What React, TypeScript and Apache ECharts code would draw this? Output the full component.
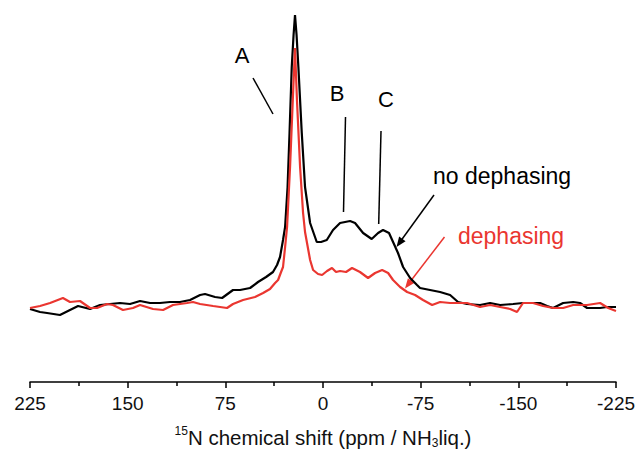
import React, { useEffect, useRef } from "react";
import * as echarts from "echarts";

// x: 15N chemical shift (ppm), y: intensity (arbitrary units)
const blackPpm = [225, 217.3, 211.9, 202.0, 194.3, 188.1, 178.9, 171.2, 163.6, 155.9, 148.2, 140.5, 132.8, 125.2, 117.5, 109.8, 102.1, 94.4, 90.6, 82.9, 77.5, 69.1, 63.7, 56.0, 49.9, 43.7, 38.4, 35.3, 33.0, 30.7, 29.1, 27.2, 25.7, 24.0, 22.6, 21.5, 20.3, 18.9, 16.3, 13.8, 9.9, 4.8, 1.5, -2.9, -7.7, -13.1, -20.8, -24.6, -30.8, -37.4, -42.3, -46.1, -50.7, -53.8, -57.6, -61.5, -66.9, -72.2, -74.5, -82.2, -89.9, -97.6, -103.7, -110.6, -120.6, -128.3, -136.0, -146.0, -153.6, -161.3, -166.7, -172.1, -176.7, -184.4, -192.1, -197.4, -202.8, -212.8, -218.2, -225];
const blackInt = [73, 70, 69, 67, 72, 76, 73, 77, 78, 79, 78, 81, 79, 79, 80, 80, 82, 87, 88, 85, 84, 92, 92, 94, 100, 105, 110, 117, 125, 142, 155, 195, 249, 315, 347, 367, 347, 315, 249, 195, 159, 140, 140, 142, 152, 159, 161, 159, 149, 143, 149, 152, 149, 140, 129, 115, 104, 97, 94, 92, 90, 87, 80, 78, 77, 79, 77, 78, 79, 79, 79, 76, 74, 79, 80, 79, 74, 74, 75, 75];

const redPpm = [225, 217.3, 209.6, 199.7, 194.3, 186.6, 178.9, 173.5, 165.9, 161.3, 153.6, 145.9, 140.5, 130.5, 122.8, 115.2, 104.4, 99.8, 94.4, 84.4, 73.7, 69.1, 61.4, 52.2, 46.0, 40.7, 36.8, 34.5, 32.2, 30.7, 29.1, 27.6, 25.3, 23.2, 21.5, 20.0, 17.6, 15.3, 13.8, 9.9, 7.6, 3.8, 0.7, -3.1, -6.9, -10.0, -13.1, -17.7, -22.3, -28.4, -34.6, -40.0, -45.4, -50.0, -53.8, -59.2, -64.6, -70.7, -76.8, -83.8, -89.9, -97.6, -110.6, -120.6, -128.3, -136.0, -143.7, -149.0, -153.6, -161.3, -169.0, -176.7, -184.4, -192.1, -202.8, -212.8, -219.0, -225];
const redInt = [74, 76, 79, 84, 80, 81, 74, 74, 78, 77, 72, 74, 77, 73, 72, 77, 79, 80, 78, 76, 74, 78, 82, 85, 89, 93, 99, 102, 110, 115, 135, 155, 215, 282, 334, 282, 215, 169, 150, 122, 112, 108, 107, 111, 114, 110, 111, 110, 114, 110, 104, 109, 112, 109, 102, 95, 90, 87, 82, 77, 80, 79, 79, 75, 77, 75, 73, 70, 79, 79, 76, 74, 74, 77, 77, 79, 74, 71];

const xTicks = [225, 150, 75, 0, -75, -150, -225];
const seriesNames = ["no dephasing", "dephasing"];

const FONT = "'Liberation Sans', Arial, sans-serif";
const RED = "#ea3630";

function arrowHead(x1: number, y1: number, x2: number, y2: number, len: number, half: number) {
  const dx = x2 - x1, dy = y2 - y1;
  const l = Math.sqrt(dx * dx + dy * dy);
  const ux = dx / l, uy = dy / l;
  const bx = x2 - ux * len, by = y2 - uy * len;
  return [[x2, y2], [bx - uy * half, by + ux * half], [bx + uy * half, by - ux * half]];
}

export default function App() {
  const ref = useRef<HTMLDivElement>(null);
  useEffect(() => {
    document.body.style.margin = "0";
    const chart = echarts.init(ref.current!, null, { renderer: "svg" });
    const black = blackPpm.map((p, i) => [p, blackInt[i]]);
    const red = redPpm.map((p, i) => [p, redInt[i]]);
    chart.setOption({
      animation: false,
      backgroundColor: "#fff",
      grid: { left: 30, right: 24, top: 10, bottom: 74, outerBoundsMode: "none", containLabel: false },
      xAxis: {
        type: "value",
        min: -225,
        max: 225,
        interval: 75,
        inverse: true,
        axisLine: { show: true, lineStyle: { color: "#000", width: 1.5 } },
        axisTick: { show: true, inside: false, length: 6, lineStyle: { color: "#000", width: 1.5 } },
        minorTick: { show: true, splitNumber: 2, length: 4, lineStyle: { color: "#000", width: 1.5 } },
        splitLine: { show: false },
        axisLabel: {
          color: "#111",
          fontSize: 19,
          fontFamily: FONT,
          margin: 12,
          formatter: (v: number) => (xTicks.includes(v) ? String(v) : ""),
        },
        name: "{sup|15}{n|N chemical shift (ppm / NH}{sub|3}{n|liq.)}",
        nameLocation: "middle",
        nameGap: 43,
        nameTextStyle: {
          rich: {
            n: { fontSize: 20.5, fontFamily: FONT, color: "#111", lineHeight: 24 },
            sup: { fontSize: 12, fontFamily: FONT, color: "#111", verticalAlign: "top", lineHeight: 24, padding: [0, 0, 10, 0] },
            sub: { fontSize: 12, fontFamily: FONT, color: "#111", verticalAlign: "bottom", lineHeight: 24, padding: [10, 0, 0, 0] },
          },
        },
      },
      yAxis: {
        type: "value",
        min: 0,
        max: 372,
        show: false,
        splitLine: { show: false },
      },
      series: [
        {
          name: seriesNames[0],
          type: "line",
          data: black,
          showSymbol: false,
          smooth: false,
          lineStyle: { color: "#000", width: 2.2 },
          z: 3,
        },
        {
          name: seriesNames[1],
          type: "line",
          data: red,
          showSymbol: false,
          smooth: false,
          lineStyle: { color: RED, width: 2.2 },
          z: 4,
        },
      ],
      graphic: [
        { type: "text", x: 242, y: 55, style: { text: "A", fontSize: 22, fontFamily: FONT, fill: "#000", align: "center", verticalAlign: "middle" } },
        { type: "text", x: 337, y: 93, style: { text: "B", fontSize: 22, fontFamily: FONT, fill: "#000", align: "center", verticalAlign: "middle" } },
        { type: "text", x: 386, y: 99, style: { text: "C", fontSize: 22, fontFamily: FONT, fill: "#000", align: "center", verticalAlign: "middle" } },
        { type: "line", shape: { x1: 253, y1: 78, x2: 273, y2: 114 }, style: { stroke: "#000", lineWidth: 1.5 } },
        { type: "line", shape: { x1: 345.5, y1: 117, x2: 343.5, y2: 212 }, style: { stroke: "#000", lineWidth: 1.5 } },
        { type: "line", shape: { x1: 381, y1: 131, x2: 378.7, y2: 224 }, style: { stroke: "#000", lineWidth: 1.5 } },
        { type: "text", x: 433, y: 176, style: { text: seriesNames[0], fontSize: 23, fontFamily: FONT, fill: "#000", align: "left", verticalAlign: "middle" } },
        { type: "text", x: 458, y: 236, style: { text: seriesNames[1], fontSize: 23, fontFamily: FONT, fill: RED, align: "left", verticalAlign: "middle" } },
        { type: "line", shape: { x1: 434, y1: 195, x2: 400, y2: 242 }, style: { stroke: "#000", lineWidth: 1.5 } },
        { type: "polygon", shape: { points: arrowHead(434, 195, 396.5, 247, 10, 4) }, style: { fill: "#000" } },
        { type: "line", shape: { x1: 444.5, y1: 237, x2: 408, y2: 284.5 }, style: { stroke: RED, lineWidth: 1.5 } },
        { type: "polygon", shape: { points: arrowHead(444.5, 237, 405, 288.5, 10, 4) }, style: { fill: RED } },
      ],
    });
    return () => chart.dispose();
  }, []);
  return <div ref={ref} style={{ width: 640, height: 456, position: "absolute", left: 0, top: 0 }} />;
}
